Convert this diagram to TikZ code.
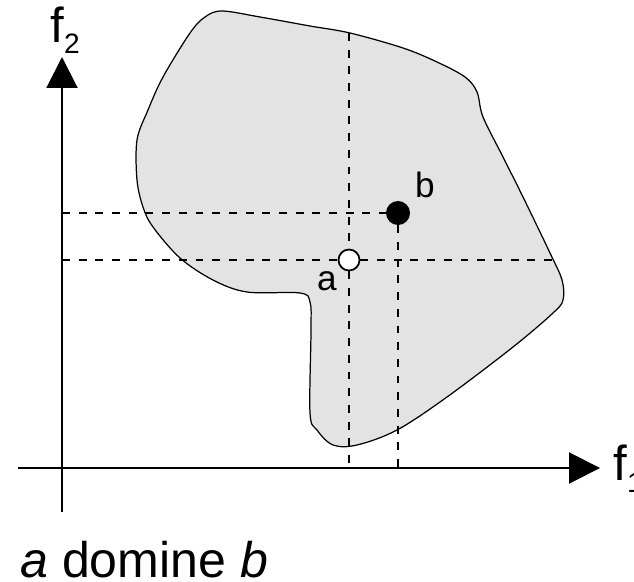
\documentclass[tikz,border=0pt]{standalone}
\usepackage{fontspec}
\setmainfont{Liberation Sans}
\usetikzlibrary{positioning,arrows.meta}

\begin{document}
\begin{tikzpicture}[x=0.02cm,y=-0.02cm,>={Triangle[length=0.62cm,width=0.62cm]},
  axis/.style={line width=1.2pt,->},
  guide/.style={line width=0.8pt,dash pattern=on 4.5pt off 5pt},
  region/.style={fill=black!11,line width=0.7pt},
  pointa/.style={circle,draw,fill=white,line width=1pt,inner sep=0pt,minimum size=0.42cm},
  pointb/.style={circle,fill=black,inner sep=0pt,minimum size=0.48cm},
  lab/.style={inner sep=0pt,font=\fontsize{20}{24}\selectfont}]
  \useasboundingbox (0,0) rectangle (634,581);
  % ---- feasible region ----
  \draw[region] plot[smooth cycle,tension=0.55] coordinates {
    (205,17) (222,11) (260,17) (310,26) (350,33) (403,48) (437,62) (465,77)
    (477,92) (483,117) (503,157) (523,197) (550,253) (562,280) (563,300)
    (553,313) (513,347) (447,397) (397,430) (357,445) (333,445) (317,430)
    (310,413) (311,330) (310,302) (300,293) (247,292) (213,280) (180,258)
    (153,227) (143,207) (137,180) (137,140) (148,110) (163,77) (190,33)};
  % ---- axes ----
  \coordinate (xstart) at (18,468);
  \coordinate (xend) at (600,468);
  \coordinate (ystart) at (62,512);
  \coordinate (yend) at (62,57);
  \draw[axis] (xstart) -- (xend);
  \draw[axis] (ystart) -- (yend);
  \node[anchor=base west,inner sep=0pt,font=\fontsize{28}{30}\selectfont] (f1) at (613,480)
    {f\raisebox{-7pt}{\fontsize{16}{16}\selectfont 1}};
  \node[anchor=base west,inner sep=0pt,font=\fontsize{28}{30}\selectfont] (f2) at (50,43)
    {f\raisebox{-6pt}{\fontsize{16}{16}\selectfont 2}};
  % ---- the two points ----
  \node[pointa] (a) at (349,260) {};
  \node[pointb] (b) at (398,213) {};
  \node[lab,anchor=base] (alab) at (327,290) {a};
  \node[lab,anchor=base] (blab) at (425,197) {b};
  % dashed guides: a spans the region, b stops at the point
  \coordinate (atop) at (349,33);
  \coordinate (abot) at (349,468);
  \coordinate (aleft) at (62,260);
  \coordinate (aright) at (553,260);
  \coordinate (bbot) at (398,468);
  \coordinate (bleft) at (62,213);
  \draw[guide] (atop) -- (a);
  \draw[guide] (a) -- (abot);
  \draw[guide] (aleft) -- (a);
  \draw[guide] (a) -- (aright);
  \draw[guide] (bleft) -- (b);
  \draw[guide] (b) -- (bbot);
  % ---- caption ----
  \node[anchor=base west,inner sep=0pt,font=\fontsize{28.5}{34}\selectfont] (caption) at (20,577)
    {\textit{a} domine \textit{b}};
\end{tikzpicture}
\end{document}
